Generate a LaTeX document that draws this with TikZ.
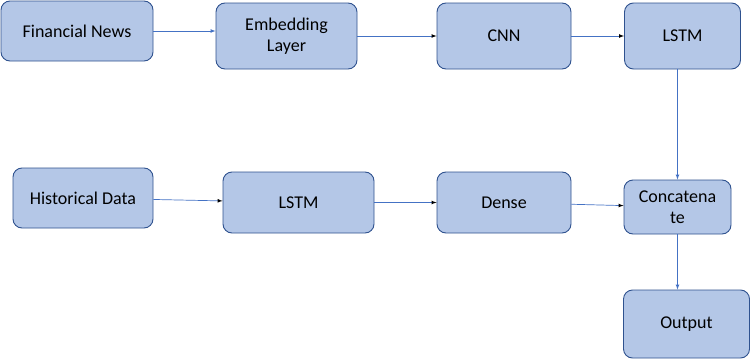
\documentclass[tikz,border=0pt]{standalone}
\usepackage{fontspec}
\setmainfont{Carlito}
\usetikzlibrary{arrows}
\definecolor{boxfill}{HTML}{B4C7E7}
\definecolor{boxline}{HTML}{2F528F}
\definecolor{arrowline}{HTML}{4472C4}

\begin{document}
\begin{tikzpicture}[
            x = 1pt, y = -1pt, % pixel-like units, y down
            > = latex, % arrow head style
            semithick % line style
        ]

        \tikzstyle{block}=[
            draw = boxline,
            line width = 0.9pt,
            fill = boxfill,
            rounded corners = 9pt,
            align = center,
            inner sep = 2pt,
            font = \fontsize{18}{21}\selectfont
        ]
        \tikzstyle{link}=[
            draw = arrowline,
            line width = 0.7pt
        ]

        \useasboundingbox (0,0) rectangle (750,359);

        \node[block, minimum width=152pt, minimum height=60pt] (news) at (77,31) {Financial News};
        \node[block, minimum width=141pt, minimum height=66pt] (embed) at (286.5,36) {Embedding\\Layer};
        \node[block, minimum width=134pt, minimum height=66pt] (cnn) at (504,36) {CNN};
        \node[block, minimum width=116pt, minimum height=66pt] (lstmA) at (682.5,36) {LSTM};

        \node[block, minimum width=140pt, minimum height=60pt] (hist) at (83,198) {Historical Data};
        \node[block, minimum width=151pt, minimum height=61pt] (lstmB) at (298.5,202.5) {LSTM};
        \node[block, minimum width=134pt, minimum height=61pt] (dense) at (504,202.5) {Dense};
        \node[block, minimum width=107pt, minimum height=54pt] (concat) at (677.5,207) {Concatena\\te};
        \node[block, minimum width=126pt, minimum height=68pt] (out) at (686.5,324) {Output};

	\draw[->, link] (news.east) -- (news.east -| embed.west);
	\path[->, link] (embed) edge (cnn);
	\path[->, link] (cnn) edge (lstmA);
	\draw[->, link] (concat.north |- lstmA.south) -- (concat.north);
	\path[->, link] (hist) edge (lstmB);
	\path[->, link] (lstmB) edge (dense);
	\path[->, link] (dense) edge (concat);
	\draw[->, link] (concat.south) -- (concat.south |- out.north);
    \end{tikzpicture}
\end{document}
